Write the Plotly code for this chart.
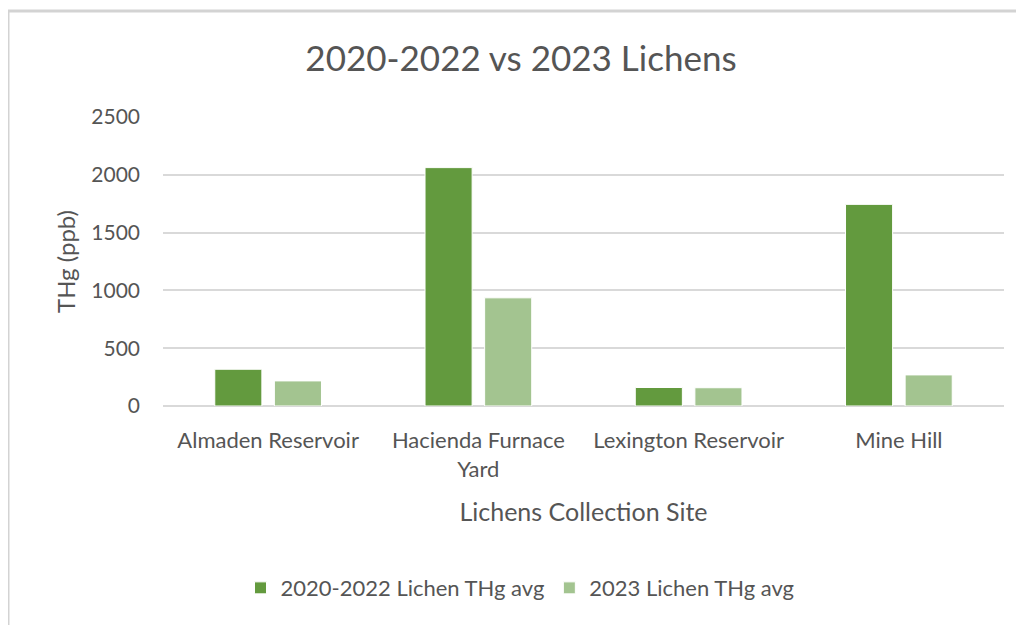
import plotly.graph_objects as go

categories = ["Almaden Reservoir", "Hacienda Furnace Yard", "Lexington Reservoir", "Mine Hill"]
tick_labels = ["Almaden Reservoir", "Hacienda Furnace<br>Yard", "Lexington Reservoir", "Mine Hill"]
series_names = ["2020-2022 Lichen THg avg", "2023 Lichen THg avg"]
thg_2020_2022 = [318, 2063, 160, 1745]
thg_2023 = [217, 936, 158, 269]
y_ticks = [0, 500, 1000, 1500, 2000, 2500]

FONT = "Lato"
TXT = "#555555"
GRID = "#d9d9d9"

# page has an 8px body margin, so figure is 1016x617 and offset by 8px
W, H = 1016, 617
L, T, PW, PH = 155, 109, 841, 289

fig = go.Figure()
fig.add_trace(go.Bar(x=categories, y=thg_2020_2022, name=series_names[0],
                     marker=dict(color="#639a3e", line=dict(color="white", width=1))))
fig.add_trace(go.Bar(x=categories, y=thg_2023, name=series_names[1],
                     marker=dict(color="#a3c490", line=dict(color="white", width=1))))

fig.update_layout(
    width=W, height=H,
    margin=dict(l=L, r=W - L - PW, t=T, b=H - T - PH, autoexpand=False),
    paper_bgcolor="white", plot_bgcolor="white",
    font=dict(family=FONT, color=TXT, size=21),
    barmode="group", bargap=0.433, bargroupgap=0.21,
    title=dict(text="2020-2022 vs 2023 Lichens", font=dict(family=FONT, size=35, color=TXT),
               x=513 / W, xref="container", xanchor="center",
               y=1 - 51 / H, yref="container", yanchor="middle"),
    xaxis=dict(tickmode="array", tickvals=categories, ticktext=tick_labels,
               showgrid=False, showline=False, zeroline=False, ticks="",
               tickfont=dict(size=22, color=TXT), ticklabelstandoff=19,
               title=dict(text="Lichens Collection Site", font=dict(size=25, color=TXT), standoff=22)),
    yaxis=dict(range=[0, 2501], tickmode="array", tickvals=y_ticks,
               showgrid=True, gridcolor=GRID, gridwidth=1.5,
               zeroline=True, zerolinecolor=GRID, zerolinewidth=1.5, showline=False,
               ticks="", tickfont=dict(size=21, color=TXT), ticklabelstandoff=22,
               title=dict(text="THg (ppb)", font=dict(size=24, color=TXT), standoff=8)),
    legend=dict(orientation="h", x=(520 - 163) / PW, xanchor="center", y=-0.63, yanchor="middle",
                font=dict(size=22, color=TXT), traceorder="normal"),
    showlegend=True,
)

# chart area border (top and left edges visible in the reference)
fig.add_shape(type="path", xref="paper", yref="paper",
              path="M -0.1843,-0.8 L -0.1843,1.3668 L 1.05,1.3668",
              line=dict(color="#d3d3d3", width=3))

fig.write_html("out.html")
